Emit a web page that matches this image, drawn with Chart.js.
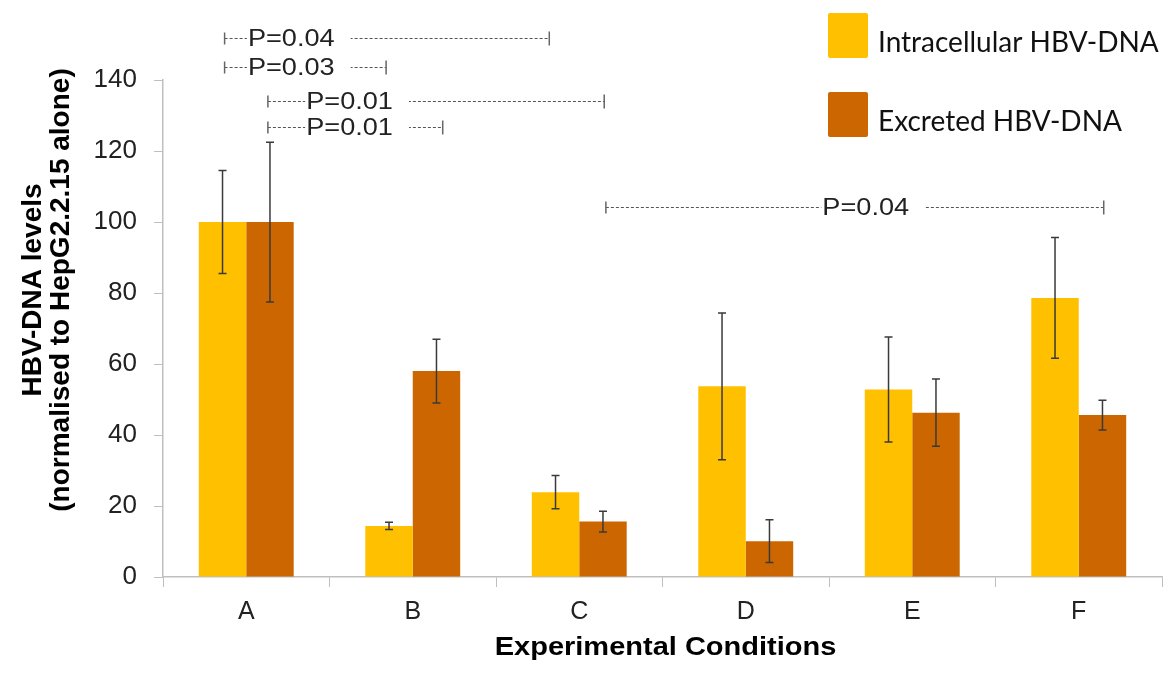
<!DOCTYPE html>
<html>
<head>
<meta charset="utf-8">
<script src="https://cdn.jsdelivr.net/npm/chart.js@4.4.1/dist/chart.umd.min.js"></script>
<style>
  html, body { margin: 0; padding: 0; background: #ffffff; }
  #wrap { width: 1172px; height: 680px; position: relative; }
</style>
</head>
<body>
<div id="wrap"><canvas id="c"></canvas></div>
<script>
// ---------------- data ----------------
const categories = ['A', 'B', 'C', 'D', 'E', 'F'];
const seriesNames = ['Intracellular HBV-DNA', 'Excreted HBV-DNA'];
const intracellular = [100, 14.4, 23.9, 53.7, 52.8, 78.6];
const intracellularErr = [14.5, 1.0, 4.7, 20.7, 14.8, 17.0];
const excreted = [100, 58.0, 15.6, 10.1, 46.3, 45.6];
const excretedErr = [22.5, 9.0, 2.9, 6.0, 9.5, 4.2];
const yMin = 0, yMax = 140, yStep = 20;
const xTitle = 'Experimental Conditions';
const yTitle = ['HBV-DNA levels', '(normalised to HepG2.2.15 alone)'];
// significance brackets (category index units / value units)
const pLabels = ['P=0.04', 'P=0.03', 'P=0.01', 'P=0.01', 'P=0.04'];
const pFrom   = [-0.13, -0.13, 0.13, 0.13, 2.16];
const pTo     = [1.82, 0.84, 2.15, 1.18, 5.15];
const pLevel  = [151.7, 143.7, 134.2, 126.8, 104.2];
const pTextAt = [0.01, 0.01, 0.36, 0.36, 3.46];

// ---------------- styles ----------------
const COL_INTRA = '#FFC000';
const COL_EXCR = '#CC6600';
const AXIS_COL = '#bfbfbf';
const FONT = '"Liberation Sans", Arial, sans-serif';

function stretchedText(ctx, text, x, y, sx, align) {
  const w = ctx.measureText(text).width * sx;
  let left = x;
  if (align === 'center') left = x - w / 2;
  ctx.save();
  ctx.translate(left, y);
  ctx.scale(sx, 1);
  ctx.textAlign = 'left';
  ctx.fillText(text, 0, 0);
  ctx.restore();
  return w;
}

const errorBarPlugin = {
  id: 'errorBars',
  afterDatasetsDraw(chart) {
    const ctx = chart.ctx;
    const ys = chart.scales.y;
    const errs = [intracellularErr, excretedErr];
    ctx.save();
    ctx.strokeStyle = '#3a3a3a';
    ctx.lineWidth = 1.5;
    chart.data.datasets.forEach((ds, i) => {
      const meta = chart.getDatasetMeta(i);
      meta.data.forEach((bar, j) => {
        const v = ds.data[j], e = errs[i][j];
        const x = bar.x;
        const yt = ys.getPixelForValue(v + e);
        const yb = ys.getPixelForValue(v - e);
        ctx.beginPath();
        ctx.moveTo(x, yt); ctx.lineTo(x, yb);
        ctx.moveTo(x - 4, yt); ctx.lineTo(x + 4, yt);
        ctx.moveTo(x - 4, yb); ctx.lineTo(x + 4, yb);
        ctx.stroke();
      });
    });
    ctx.restore();
  }
};

const annotPlugin = {
  id: 'annot',
  afterDraw(chart) {
    const ctx = chart.ctx;
    const xs = chart.scales.x, ys = chart.scales.y;
    const ca = chart.chartArea;
    ctx.save();
    // significance brackets
    ctx.font = '23px ' + FONT;
    ctx.textBaseline = 'middle';
    const PS = 1.18;
    for (let k = 0; k < pLabels.length; k++) {
      const x1 = xs.getPixelForValue(pFrom[k]);
      const x2 = xs.getPixelForValue(pTo[k]);
      const y = Math.round(ys.getPixelForValue(pLevel[k])) + 0.5;
      ctx.strokeStyle = '#555555';
      ctx.lineWidth = 1;
      ctx.setLineDash([3, 2]);
      ctx.beginPath(); ctx.moveTo(x1, y); ctx.lineTo(x2, y); ctx.stroke();
      ctx.setLineDash([]);
      ctx.strokeStyle = '#666666';
      ctx.lineWidth = 1.5;
      ctx.beginPath();
      ctx.moveTo(x1, y - 6); ctx.lineTo(x1, y + 6);
      ctx.moveTo(x2, y - 7); ctx.lineTo(x2, y + 7);
      ctx.stroke();
      const tx = xs.getPixelForValue(pTextAt[k]);
      const w = ctx.measureText(pLabels[k]).width * PS;
      ctx.fillStyle = '#ffffff';
      ctx.fillRect(tx - 1, y - 12, w + 17, 24);
      ctx.fillStyle = '#222222';
      stretchedText(ctx, pLabels[k], tx, y + 1, PS, 'left');
    }
    // x axis title
    ctx.fillStyle = '#000000';
    ctx.font = 'bold 25px ' + FONT;
    ctx.textBaseline = 'middle';
    stretchedText(ctx, xTitle, (ca.left + ca.right) / 2 + 3, 648, 1.16, 'center');
    // y axis title
    ctx.font = 'bold 28px ' + FONT;
    ctx.textAlign = 'center';
    ctx.textBaseline = 'middle';
    const yc = 290;
    [33, 61].forEach((xx, i) => {
      ctx.save();
      ctx.translate(xx, yc);
      ctx.rotate(-Math.PI / 2);
      ctx.fillText(yTitle[i], 0, 0);
      ctx.restore();
    });
    // legend
    const cols = [COL_INTRA, COL_EXCR];
    const lys = [13, 92];
    ctx.font = '28px Lato, "Open Sans", sans-serif';
    ctx.textAlign = 'left';
    ctx.textBaseline = 'middle';
    for (let i = 0; i < 2; i++) {
      ctx.fillStyle = cols[i];
      ctx.beginPath();
      if (ctx.roundRect) ctx.roundRect(828, lys[i], 40, 45, 2); else ctx.rect(828, lys[i], 40, 45);
      ctx.fill();
      ctx.fillStyle = '#111111';
      ctx.fillText(seriesNames[i], 878, lys[i] + 30);
    }
    ctx.restore();
  }
};

new Chart(document.getElementById('c'), {
  type: 'bar',
  data: {
    labels: categories,
    datasets: [
      { label: seriesNames[0], data: intracellular, backgroundColor: COL_INTRA, borderWidth: 0 },
      { label: seriesNames[1], data: excreted, backgroundColor: COL_EXCR, borderWidth: 0 }
    ]
  },
  options: {
    responsive: true,
    maintainAspectRatio: false,
    animation: false,
    layout: { padding: { top: 80, right: 10, left: 0, bottom: 0 } },
    plugins: { legend: { display: false }, tooltip: { enabled: false } },
    datasets: { bar: { categoryPercentage: 0.57, barPercentage: 1.0 } },
    scales: {
      x: {
        grid: { display: true, drawOnChartArea: false, drawTicks: true, tickLength: 10, color: AXIS_COL, offset: true },
        border: { display: true, color: AXIS_COL, width: 1.5 },
        ticks: { color: '#222222', font: { family: FONT, size: 25 }, padding: 10 },
        afterFit(scale) { scale.height = 103; }
      },
      y: {
        min: yMin, max: yMax,
        grid: { display: true, drawOnChartArea: false, drawTicks: true, tickLength: 9, color: AXIS_COL },
        border: { display: true, color: AXIS_COL, width: 1.5 },
        ticks: { stepSize: yStep, color: '#222222', font: { family: FONT, size: 26 }, padding: 17 },
        afterFit(scale) { scale.width = 163; }
      }
    }
  },
  plugins: [errorBarPlugin, annotPlugin]
});
</script>
</body>
</html>
